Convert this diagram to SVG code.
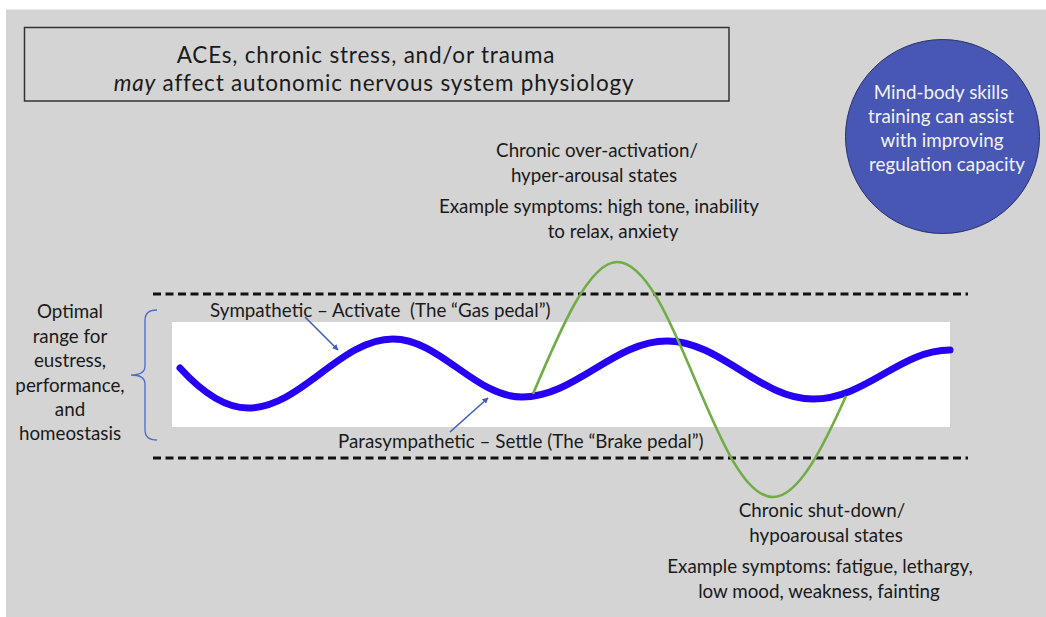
<svg xmlns="http://www.w3.org/2000/svg" width="1046" height="617" viewBox="0 0 1046 617">
<defs>
<style>
.t{font-family:Lato,"Open Sans","Liberation Sans",sans-serif;fill:#1a1a1a;font-size:18.8px}
.h{font-size:22.5px;letter-spacing:0.8px}
.c{text-anchor:middle}
.w{fill:#f2f2f7}
.dash{stroke:#111;stroke-width:3;stroke-dasharray:8 4.5;fill:none}
.ptr{stroke:#3f5fc0;stroke-width:1.6;fill:none;marker-end:url(#ah)}
</style>
<marker id="ah" viewBox="0 0 10 10" refX="9" refY="5" markerWidth="6" markerHeight="6" orient="auto" markerUnits="userSpaceOnUse">
<path d="M0,0 L10,5 L0,10 z" fill="#3f5fc0"/>
</marker>
</defs>
<rect x="0" y="0" width="1046" height="617" fill="#ffffff"/>
<rect x="6" y="9.5" width="1040" height="607.5" fill="#d4d4d4"/>

<g id="title">
<rect x="24.5" y="27.5" width="704.5" height="73.5" fill="none" stroke="#333" stroke-width="1.5"/>
<text class="t h c" x="366" y="63">ACEs, chronic stress, and/or trauma</text>
<text class="t h c" x="374" y="90.5"><tspan font-style="italic">may</tspan> affect autonomic nervous system physiology</text>
</g>

<g id="mind-body">
<circle cx="942.5" cy="136.5" r="97" fill="#4757b3" stroke="#27306b" stroke-width="1"/>
<text class="t c w" x="941" y="99">Mind-body skills</text>
<text class="t c w" x="941" y="123">training can assist</text>
<text class="t c w" x="942" y="147">with improving</text>
<text class="t c w" x="947" y="171">regulation capacity</text>
</g>

<g id="range-band">
<line class="dash" x1="153" y1="294" x2="968" y2="294"/>
<line class="dash" x1="153" y1="458" x2="968" y2="458"/>
<rect x="172" y="322" width="778" height="105" fill="#ffffff"/>
</g>

<g id="optimal-range">
<path d="M157,310 Q145,310 145,320 L145,366 Q145,375 131,375 Q145,375 145,384 L145,430 Q145,440 157,440" fill="none" stroke="#4a6cc4" stroke-width="1.3"/>
<text class="t c" x="70" y="318">Optimal</text>
<text class="t c" x="70" y="343">range for</text>
<text class="t c" x="70" y="367">eustress,</text>
<text class="t c" x="70" y="392">performance,</text>
<text class="t c" x="70" y="416">and</text>
<text class="t c" x="70" y="440">homeostasis</text>
</g>

<g id="waves">
<path id="ans-wave" d="M180,368 C200,390 224,408 248,408 C301,408 340,339 393,339 C440,339 475,397 522,397 C575,397 614,341 667,341 C720,341 760,399 813,399 C866,399 900,350 950,350" fill="none" stroke="#2600f5" stroke-width="7" stroke-linecap="round"/>
<path id="dysregulated-wave" d="M533,394 C560,330 589,262 617,262 C645.2,262 669.6,319.3 695,379.5 C720.4,439.7 744.8,497 773,497 C799,497 824,445 846,396" fill="none" stroke="#70ad47" stroke-width="2.6"/>
</g>

<g id="sympathetic-label">
<text class="t" x="210" y="317" xml:space="preserve">Sympathetic – Activate  (The “Gas pedal”)</text>
</g>
<g id="parasympathetic-label">
<text class="t" x="338" y="448">Parasympathetic – Settle (The “Brake pedal”)</text>
</g>

<g id="hyperarousal">
<text class="t c" x="597" y="157">Chronic over-activation/</text>
<text class="t c" x="594" y="182">hyper-arousal states</text>
<text class="t c" x="599" y="212.5">Example symptoms: high tone, inability</text>
<text class="t c" x="613" y="237.5">to relax, anxiety</text>
</g>

<g id="hypoarousal">
<text class="t c" x="822" y="517">Chronic shut-down/</text>
<text class="t c" x="826" y="542">hypoarousal states</text>
<text class="t c" x="820" y="573">Example symptoms: fatigue, lethargy,</text>
<text class="t c" x="819" y="598">low mood, weakness, fainting</text>
</g>

<g id="connectors">
<line class="ptr" x1="305" y1="317" x2="338" y2="350"/>
<line class="ptr" x1="450" y1="432" x2="488" y2="398"/>
</g>
</svg>
